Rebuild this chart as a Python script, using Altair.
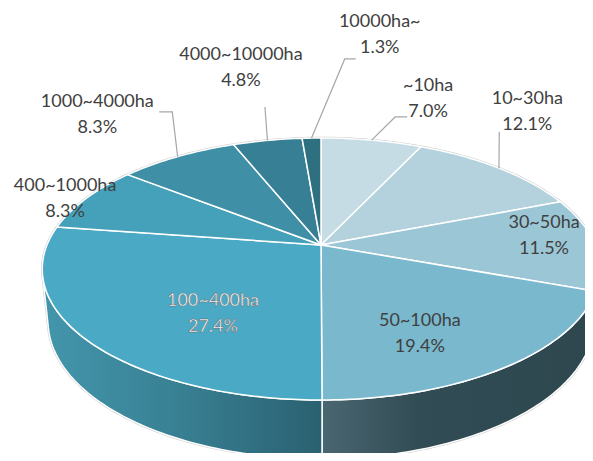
import altair as alt
import numpy as np
import pandas as pd

# ---------------- data ----------------
categories = ["~10ha", "10~30ha", "30~50ha", "50~100ha", "100~400ha",
              "400~1000ha", "1000~4000ha", "4000~10000ha", "10000ha~"]
shares = [7.0, 12.1, 11.5, 19.4, 27.4, 8.3, 8.3, 4.8, 1.3]

# ---------------- styles ----------------
top_colors = ["#c6dce4", "#b3d2dd", "#9bc6d5", "#79b8cd", "#4aa9c4",
              "#45a0b9", "#3f8fa7", "#377f94", "#2e6f80"]
wall_stops = {
    "30~50ha": [(0.0, "#33505a"), (1.0, "#2f4850")],
    "50~100ha": [(0.0, "#4a6670"), (0.35, "#314c55"), (1.0, "#2e474f")],
    "100~400ha": [(0.0, "#4396ac"), (0.5, "#387f92"), (1.0, "#2a6171")],
}
# label placement in the pie's own (projected) polar frame
label_r = [1.538, 1.600, 0.828, 0.698, 0.614, 1.074, 1.617, 1.920, 2.403]
label_shift = [6.2, -11.3, -4.4, 7.8, -13.4, -2.0, -1.6, 1.5, 9.7]
# leader line elbow / end offsets from the label centre (pixels)
leader_offsets = {
    "~10ha": [(-33, 17.5), (-21, 17.5)],
    "10~30ha": [(-28, 20), (-28, 20)],
    "1000~4000ha": [(75, -3), (62, -3)],
    "4000~10000ha": [(24, 39), (24, 39)],
    "10000ha~": [(-35, 24), (-24, 24)],
}
outlined_label = "100~400ha"
LINE_H = 26

# ---------------- camera (3D tilted pie) ----------------
CX, CY = 321.0, 245.0
FOCAL = 1326.5
DIST = 4.841
TILT = np.radians(27.52)
DEPTH = 0.2164


def proj(u, v, z=0.0):
    d = DIST - v * np.cos(TILT) - z * np.sin(TILT)
    return CX + FOCAL * u / d, CY + FOCAL * (v * np.sin(TILT) - z * np.cos(TILT)) / d


def rim(theta_deg, z=0.0, r=1.0):
    t = np.radians(theta_deg)
    return proj(r * np.sin(t), -r * np.cos(t), z)


total = float(sum(shares))
cum = np.cumsum(shares)
a0 = 360.0 * (cum - np.array(shares)) / total
a1 = 360.0 * cum / total
mid = (a0 + a1) / 2

# wedges (top face)
wedge_rows = []
for k, cat in enumerate(categories):
    n = max(2, int(a1[k] - a0[k]) + 1)
    pts = [proj(0.0, 0.0)] + [rim(t) for t in np.linspace(a0[k], a1[k], n)]
    for i, (x, y) in enumerate(pts):
        wedge_rows.append({"cat": cat, "i": i, "x": x, "y": y})
wedges_df = pd.DataFrame(wedge_rows)

# visible side wall range
t1 = np.degrees(np.arccos(-1.0 / (DIST * np.cos(TILT))))
t2 = 360.0 - t1

wall_dfs = {}
for k, cat in enumerate(categories):
    lo, hi = max(a0[k], t1), min(a1[k], t2)
    if hi <= lo:
        continue
    ts = np.linspace(lo, hi, max(2, int(hi - lo) + 1))
    pts = [rim(t) for t in ts] + [rim(t, -DEPTH) for t in ts[::-1]]
    wall_dfs[cat] = pd.DataFrame(
        [{"cat": cat, "i": i, "x": x, "y": y} for i, (x, y) in enumerate(pts)])

# silhouette outline
ts_back = np.linspace(t2, t1 + 360.0, 240)
ts_front = np.linspace(t1, t2, 160)
sil_pts = [rim(t % 360) for t in ts_back] + [rim(t, -DEPTH) for t in ts_front]
sil_df = pd.DataFrame([{"i": i, "x": x, "y": y} for i, (x, y) in enumerate(sil_pts)])

# labels
lab_rows = []
lead_rows = []
for k, cat in enumerate(categories):
    lx, ly = rim(mid[k] + label_shift[k], 0.0, label_r[k])
    lab_rows.append({"cat": cat, "x": lx, "y": ly,
                     "label": f"{cat}\n{shares[k]:.1f}%"})
    if cat in leader_offsets:
        sx, sy = rim(mid[k])
        pts = [(sx, sy)] + [(lx + dx, ly + dy) for dx, dy in leader_offsets[cat]]
        for i, (x, y) in enumerate(pts):
            lead_rows.append({"cat": cat, "i": i, "x": x, "y": y})
lab_df = pd.DataFrame(lab_rows)
lead_df = pd.DataFrame(lead_rows)

# ---------------- chart ----------------
W, H = 577, 445
X = alt.X("x:Q", scale=alt.Scale(domain=[8, 8 + W], nice=False, zero=False), axis=None)
Y = alt.Y("y:Q", scale=alt.Scale(domain=[8, 8 + H], nice=False, zero=False, reverse=True), axis=None)

layers = []
layers.append(
    alt.Chart(sil_df).mark_line(interpolate="linear-closed", stroke="#cccccc",
                                strokeWidth=2.5, clip=True)
    .encode(x=X, y=Y, order=alt.Order("i:Q"))
)
for cat, df in wall_dfs.items():
    stops = [alt.GradientStop(offset=o, color=c) for o, c in wall_stops[cat]]
    layers.append(
        alt.Chart(df).mark_line(
            interpolate="linear-closed", filled=True,
            fill=alt.Gradient(gradient="linear", stops=stops, x1=0, x2=1, y1=0, y2=0),
            stroke="white", strokeWidth=1.5, strokeJoin="round", clip=True)
        .encode(x=X, y=Y, order=alt.Order("i:Q"))
    )
layers.append(
    alt.Chart(wedges_df).mark_line(interpolate="linear-closed", filled=True,
                                   stroke="white", strokeWidth=1.5,
                                   strokeJoin="round", opacity=1, clip=True)
    .encode(x=X, y=Y, order=alt.Order("i:Q"),
            color=alt.Color("cat:N", scale=alt.Scale(domain=categories, range=top_colors),
                            legend=None))
)
layers.append(
    alt.Chart(lead_df).mark_line(stroke="#a6a6a6", strokeWidth=1.2, clip=True)
    .encode(x=X, y=Y, order=alt.Order("i:Q"), detail="cat:N")
)
layers.append(
    alt.Chart(lab_df).transform_filter(alt.datum.cat != outlined_label)
    .mark_text(font="Lato", fontSize=18, color="#404040", lineBreak="\n",
               lineHeight=LINE_H, align="center", baseline="middle", dy=-LINE_H / 2)
    .encode(x=X, y=Y, text="label:N")
)
layers.append(
    alt.Chart(lab_df).transform_filter(alt.datum.cat == outlined_label)
    .mark_text(font="Lato", fontSize=18, fill="white", stroke="#606060",
               strokeWidth=0.45, lineBreak="\n", lineHeight=LINE_H,
               align="center", baseline="middle", dy=-LINE_H / 2)
    .encode(x=X, y=Y, text="label:N")
)

chart = alt.layer(*layers).properties(
    width=W, height=H, padding=0,
    autosize=alt.AutoSizeParams(type="none"),
).configure_view(stroke=None)

chart.save("out.html", embed_options={"renderer": "svg", "actions": False})
